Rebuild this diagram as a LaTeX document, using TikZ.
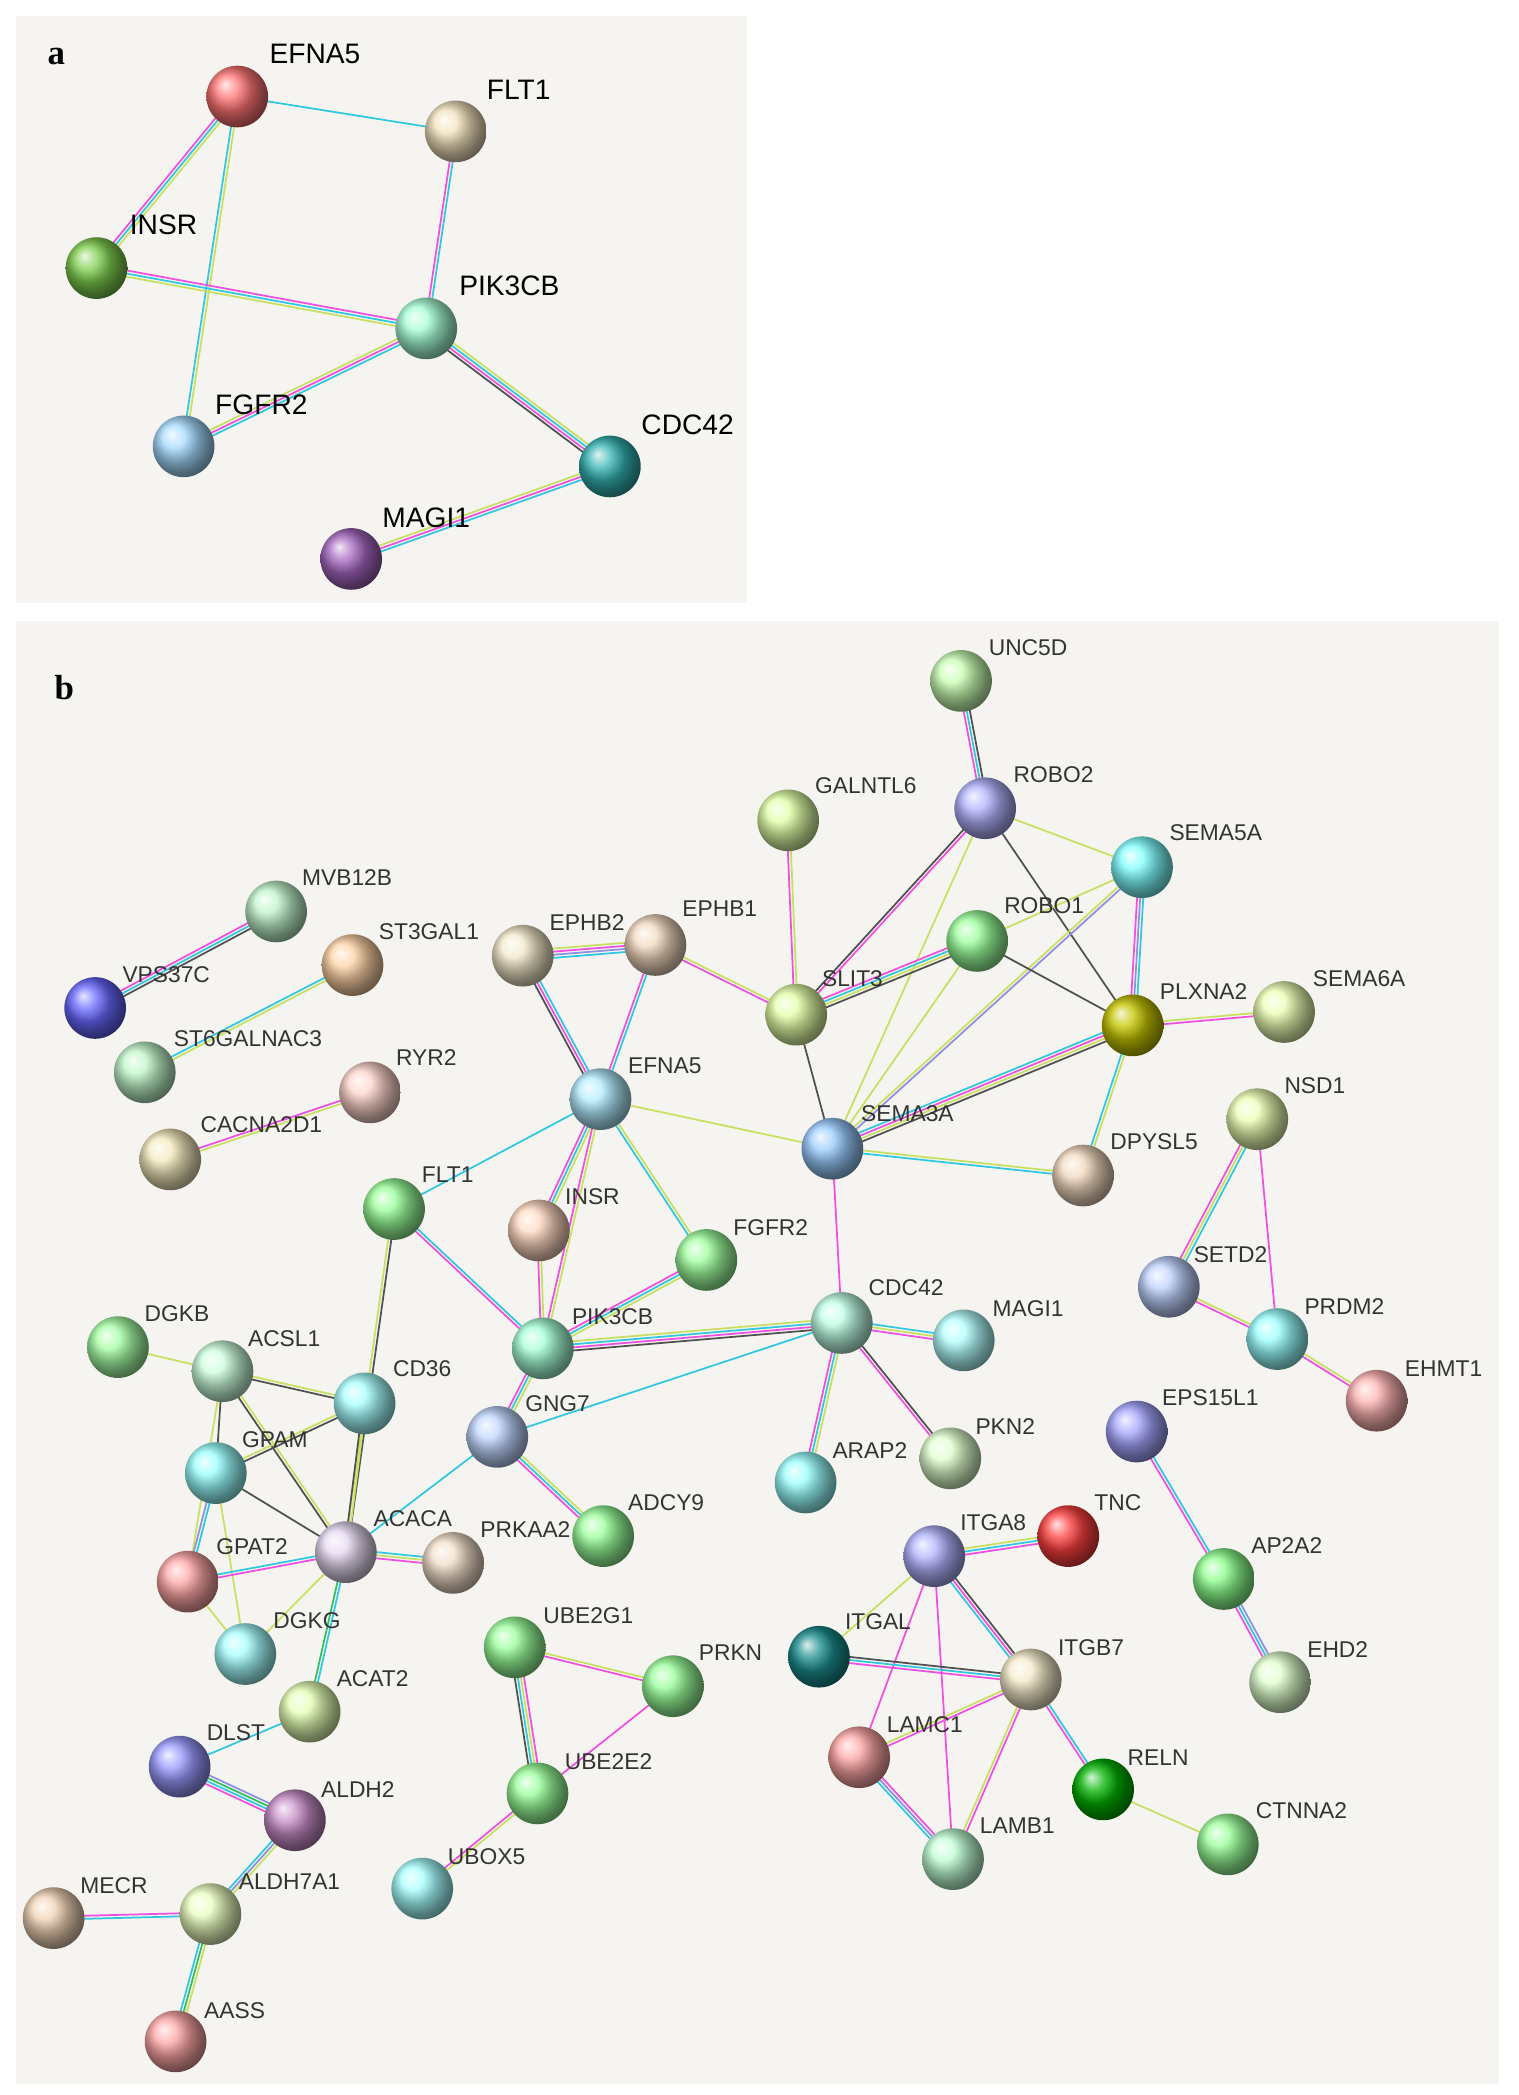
\documentclass[tikz,border=0pt]{standalone}
\usepackage{fontspec}
\setmainfont{Liberation Serif}
\newfontfamily\lab{Liberation Sans}
\usetikzlibrary{calc}
\definecolor{p}{HTML}{F04FE0}
\definecolor{c}{HTML}{30C8E0}
\definecolor{y}{HTML}{C8E060}
\definecolor{k}{HTML}{505050}
\definecolor{v}{HTML}{9090E0}
\definecolor{g}{HTML}{30C060}
\definecolor{bg}{HTML}{F6F4F0}
\tikzset{
 ball/.style={circle,minimum size=46pt,inner sep=0pt,shading=ball,ball color=#1},
 tx/.style={font=\lab\fontsize{17}{17}\selectfont,inner sep=1pt,text=black!80},
 txa/.style={font=\lab\fontsize{21}{21}\selectfont,inner sep=1pt}
}
\newcommand\eg[3]{%
 \foreach \cc [count=\ii] in {#3} {\xdef\nn{\ii}}%
 \foreach \cc [count=\ii] in {#3} {%
  \pgfmathsetmacro\oo{(\ii-(\nn+1)/2)*2.3}%
  \draw[line width=1.3pt,color=\cc] ($(#1)!\oo pt!90:(#2)$) -- ($(#2)!\oo pt!-90:(#1)$);}}
\newcommand\nd[6]{\coordinate (#1) at (#2,#3); \coordinate (L#1) at (#5,#6); \expandafter\xdef\csname T#1\endcsname{#4}}
\begin{document}
\begin{tikzpicture}[x=1pt,y=-1pt]
\useasboundingbox (0,0) rectangle (1133,1563);
\fill[white] (0,0) rectangle (1133,1563);
\fill[bg] (12,12) rectangle (557,450);
\fill[bg] (12,463) rectangle (1118,1555);
\node[font=\bfseries\fontsize{26}{26}\selectfont] at (42,42) {a};
\node[font=\bfseries\fontsize{26}{26}\selectfont] at (48,513) {b};
% panel a
\coordinate (aE) at (177,72); \coordinate (aF) at (340,98); \coordinate (aI) at (72,200);
\coordinate (aP) at (318,245); \coordinate (aG) at (137,333); \coordinate (aC) at (455,348);
\coordinate (aM) at (262,417);
\eg{aE}{aF}{c}\eg{aE}{aI}{p,c,y}\eg{aE}{aG}{c,y}
\eg{aF}{aP}{p,c}\eg{aI}{aP}{y,c,p}\eg{aP}{aG}{y,p,c}\eg{aP}{aC}{k,p,c,y}\eg{aC}{aM}{y,p,c}
\node[ball=red!55!white] at (aE){};\node[ball=orange!35!yellow!40!brown!30!white] at (aF){};
\node[ball=green!45!olive!70!white] at (aI){};\node[ball=green!45!cyan!35!white] at (aP){};
\node[ball=cyan!60!blue!35] at (aG){};\node[ball=teal!75!cyan!80!white] at (aC){};
\node[ball=blue!45!purple!60!white] at (aM){};
\node[txa] at (235,40){EFNA5};\node[txa] at (387,67){FLT1};\node[txa] at (122,168){INSR};
\node[txa] at (380,213){PIK3CB};\node[txa] at (195,302){FGFR2};\node[txa] at (513,317){CDC42};
\node[txa] at (318,386){MAGI1};
% panel b nodes
\nd{UNC5D}{717}{508}{UNC5D}{767}{483}
\nd{ROBO2}{735}{603}{ROBO2}{786}{578}
\nd{GALNTL6}{588}{612}{GALNTL6}{646}{586}
\nd{SEMA5A}{852}{647}{SEMA5A}{907}{621}
\nd{MVB12B}{206}{680}{MVB12B}{259}{655}
\nd{ST3GAL1}{263}{720}{ST3GAL1}{320}{695}
\nd{EPHB2}{390}{713}{EPHB2}{438}{688}
\nd{EPHB1}{489}{705}{EPHB1}{537}{678}
\nd{ROBO1}{729}{702}{ROBO1}{779}{676}
\nd{SLIT3}{594}{757}{SLIT3}{636}{730}
\nd{PLXNA2}{845}{765}{PLXNA2}{898}{740}
\nd{SEMA6A}{958}{755}{SEMA6A}{1014}{730}
\nd{VPS37C}{71}{752}{VPS37C}{124}{727}
\nd{ST6GALNAC3}{108}{800}{ST6GALNAC3}{185}{775}
\nd{EFNA5}{448}{820}{EFNA5}{496}{795}
\nd{RYR2}{276}{815}{RYR2}{318}{789}
\nd{SEMA3A}{621}{857}{SEMA3A}{677}{831}
\nd{NSD1}{938}{835}{NSD1}{981}{810}
\nd{CACNA2D1}{127}{865}{CACNA2D1}{195}{839}
\nd{DPYSL5}{808}{877}{DPYSL5}{861}{852}
\nd{FLT1}{294}{902}{FLT1}{334}{876}
\nd{INSR}{402}{918}{INSR}{442}{893}
\nd{FGFR2}{527}{940}{FGFR2}{575}{916}
\nd{SETD2}{872}{960}{SETD2}{918}{936}
\nd{CDC42}{628}{987}{CDC42}{676}{961}
\nd{MAGI1}{719}{1000}{MAGI1}{767}{976}
\nd{PRDM2}{953}{999}{PRDM2}{1003}{975}
\nd{DGKB}{88}{1005}{DGKB}{132}{980}
\nd{ACSL1}{166}{1023}{ACSL1}{212}{999}
\nd{PIK3CB}{405}{1006}{PIK3CB}{457}{982}
\nd{CD36}{272}{1047}{CD36}{315}{1021}
\nd{EHMT1}{1027}{1045}{EHMT1}{1077}{1021}
\nd{EPS15L1}{848}{1068}{EPS15L1}{903}{1043}
\nd{GNG7}{371}{1072}{GNG7}{416}{1047}
\nd{GPAM}{161}{1099}{GPAM}{205}{1074}
\nd{PKN2}{709}{1088}{PKN2}{750}{1064}
\nd{ARAP2}{601}{1106}{ARAP2}{649}{1082}
\nd{ADCY9}{450}{1146}{ADCY9}{497}{1121}
\nd{ACACA}{258}{1158}{ACACA}{308}{1133}
\nd{TNC}{797}{1146}{TNC}{834}{1121}
\nd{ITGA8}{697}{1161}{ITGA8}{741}{1136}
\nd{PRKAA2}{338}{1166}{PRKAA2}{392}{1141}
\nd{GPAT2}{140}{1180}{GPAT2}{188}{1154}
\nd{AP2A2}{913}{1178}{AP2A2}{960}{1153}
\nd{DGKG}{183}{1234}{DGKG}{229}{1209}
\nd{UBE2G1}{384}{1229}{UBE2G1}{439}{1205}
\nd{ITGAL}{611}{1236}{ITGAL}{655}{1210}
\nd{ITGB7}{769}{1253}{ITGB7}{814}{1229}
\nd{PRKN}{502}{1258}{PRKN}{545}{1233}
\nd{EHD2}{955}{1255}{EHD2}{998}{1231}
\nd{ACAT2}{231}{1277}{ACAT2}{278}{1252}
\nd{LAMC1}{641}{1311}{LAMC1}{690}{1287}
\nd{DLST}{134}{1318}{DLST}{176}{1293}
\nd{UBE2E2}{401}{1338}{UBE2E2}{454}{1314}
\nd{RELN}{823}{1335}{RELN}{864}{1311}
\nd{ALDH2}{220}{1358}{ALDH2}{267}{1335}
\nd{CTNNA2}{916}{1376}{CTNNA2}{971}{1351}
\nd{LAMB1}{711}{1387}{LAMB1}{759}{1362}
\nd{UBOX5}{315}{1409}{UBOX5}{363}{1385}
\nd{MECR}{40}{1431}{MECR}{85}{1407}
\nd{ALDH7A1}{157}{1428}{ALDH7A1}{216}{1404}
\nd{AASS}{131}{1523}{AASS}{175}{1500}
% edges b
\eg{UNC5D}{ROBO2}{p,c,k}\eg{ROBO2}{SLIT3}{k,p}\eg{ROBO2}{SEMA3A}{y}\eg{ROBO2}{PLXNA2}{k}
\eg{ROBO2}{SEMA5A}{y}\eg{SEMA5A}{PLXNA2}{p,v,c}\eg{SEMA5A}{SEMA3A}{y,v}\eg{SEMA5A}{ROBO1}{y}
\eg{GALNTL6}{SLIT3}{p,y}\eg{ROBO1}{SLIT3}{p,c,y,k}\eg{ROBO1}{PLXNA2}{k}
\eg{ROBO1}{SEMA3A}{y}\eg{EPHB2}{EPHB1}{c,v,p,y}\eg{EPHB2}{EFNA5}{k,p,c}\eg{EPHB1}{EFNA5}{p,c}
\eg{EPHB1}{SLIT3}{p,y}\eg{SLIT3}{SEMA3A}{k}\eg{PLXNA2}{SEMA6A}{p,y}\eg{PLXNA2}{SEMA3A}{c,p,y,k}
\eg{PLXNA2}{DPYSL5}{c,y}\eg{SEMA3A}{DPYSL5}{c,y}\eg{SEMA3A}{EFNA5}{y}\eg{SEMA3A}{CDC42}{p}
\eg{MVB12B}{VPS37C}{p,c,k}\eg{ST3GAL1}{ST6GALNAC3}{c,y}\eg{RYR2}{CACNA2D1}{p,y}
\eg{EFNA5}{FLT1}{c}\eg{EFNA5}{INSR}{p,c,y}\eg{EFNA5}{FGFR2}{c,y}\eg{EFNA5}{PIK3CB}{p,y}
\eg{NSD1}{SETD2}{p,y,c}\eg{NSD1}{PRDM2}{p}\eg{SETD2}{PRDM2}{p,y}\eg{PRDM2}{EHMT1}{p,y}
\eg{FLT1}{PIK3CB}{p,c}\eg{FLT1}{ACACA}{y,k}\eg{INSR}{PIK3CB}{p,y}\eg{FGFR2}{PIK3CB}{p,c,y}
\eg{PIK3CB}{CDC42}{k,p,c,y}\eg{PIK3CB}{GNG7}{p,c,y}\eg{CDC42}{MAGI1}{p,y,c}
\eg{CDC42}{ARAP2}{p,c,y}\eg{CDC42}{PKN2}{p,k}\eg{CDC42}{GNG7}{c}
\eg{GNG7}{ADCY9}{p,c,y}\eg{GNG7}{ACACA}{c}\eg{ACACA}{PRKAA2}{p,y,c}
\eg{DGKB}{ACSL1}{y}\eg{ACSL1}{CD36}{k,y}\eg{ACSL1}{GPAM}{k}\eg{ACSL1}{ACACA}{k,y}
\eg{ACSL1}{GPAT2}{y}\eg{GPAM}{CD36}{k,y}\eg{CD36}{ACACA}{k,y}\eg{GPAM}{ACACA}{k}
\eg{GPAM}{GPAT2}{v,c}\eg{GPAM}{DGKG}{y}\eg{GPAT2}{ACACA}{p,c}\eg{DGKG}{ACACA}{y}
\eg{GPAT2}{DGKG}{y}\eg{ACACA}{ACAT2}{g,c}\eg{DLST}{ACAT2}{c}\eg{DLST}{ALDH2}{p,c,g,v}
\eg{ALDH2}{ALDH7A1}{c,v,y}\eg{ALDH7A1}{MECR}{p,c}\eg{ALDH7A1}{AASS}{c,g,y}
\eg{UBE2G1}{UBE2E2}{k,c,y,p}\eg{UBE2G1}{PRKN}{p,y}\eg{PRKN}{UBE2E2}{p}\eg{UBE2E2}{UBOX5}{p,y}
\eg{ITGA8}{TNC}{p,c,y}\eg{ITGA8}{ITGAL}{y}\eg{ITGA8}{ITGB7}{c,p,k}\eg{ITGA8}{LAMC1}{p}
\eg{ITGA8}{LAMB1}{p}\eg{ITGAL}{ITGB7}{p,c,k}\eg{LAMC1}{ITGB7}{p,y}\eg{LAMC1}{LAMB1}{c,v,p}
\eg{ITGB7}{LAMB1}{y,p}\eg{ITGB7}{RELN}{p,c}\eg{RELN}{CTNNA2}{y}
\eg{EPS15L1}{AP2A2}{p,c}\eg{AP2A2}{EHD2}{p,c,v}
% balls b
\foreach \n/\col in {UNC5D/yellow!30!green!30, ROBO2/blue!30, GALNTL6/green!35!yellow!35,
 SEMA5A/cyan!50, MVB12B/teal!35!green!25, ST3GAL1/orange!35, EPHB2/yellow!30!brown!25,
 EPHB1/orange!35!brown!30, ROBO1/green!40, SLIT3/green!30!yellow!35, PLXNA2/olive!60!yellow!80,
 SEMA6A/green!25!yellow!30, VPS37C/blue!60, ST6GALNAC3/teal!30!green!25, EFNA5/blue!25!cyan!30,
 RYR2/orange!35!red!20, SEMA3A/blue!50!cyan!40, NSD1/green!25!yellow!30, CACNA2D1/yellow!45!brown!30,
 DPYSL5/orange!35!brown!30, FLT1/green!40, INSR/red!25!orange!25, FGFR2/green!38,
 SETD2/cyan!30!blue!25, CDC42/green!38!cyan!25, MAGI1/cyan!30, PRDM2/cyan!40, DGKB/green!35,
 ACSL1/cyan!35!green!20, PIK3CB/green!45!cyan!35, CD36/cyan!35, EHMT1/red!30, EPS15L1/blue!35,
 GNG7/cyan!35!blue!25, GPAM/cyan!40, PKN2/yellow!35!green!20, ARAP2/cyan!40, ADCY9/green!40,
 ACACA/blue!30!violet!15, TNC/red!75, ITGA8/blue!30, PRKAA2/orange!30!brown!25,
 GPAT2/red!35, AP2A2/green!45, DGKG/cyan!35, UBE2G1/green!40, ITGAL/teal!90, ITGB7/yellow!35!brown!25,
 PRKN/green!40, EHD2/yellow!35!green!20, ACAT2/green!35!yellow!30, LAMC1/red!35, DLST/blue!40,
 UBE2E2/green!40, RELN/green!70!black, ALDH2/violet!45, CTNNA2/green!40, LAMB1/cyan!35!green!25,
 UBOX5/cyan!35, MECR/orange!35!brown!35, ALDH7A1/green!30!yellow!25, AASS/red!35}
 {\node[ball=\col] at (\n){};}
\foreach \n in {UNC5D,ROBO2,GALNTL6,SEMA5A,MVB12B,ST3GAL1,EPHB2,EPHB1,ROBO1,SLIT3,PLXNA2,SEMA6A,
 VPS37C,ST6GALNAC3,EFNA5,RYR2,SEMA3A,NSD1,CACNA2D1,DPYSL5,FLT1,INSR,FGFR2,SETD2,CDC42,MAGI1,
 PRDM2,DGKB,ACSL1,PIK3CB,CD36,EHMT1,EPS15L1,GNG7,GPAM,PKN2,ARAP2,ADCY9,ACACA,TNC,ITGA8,PRKAA2,
 GPAT2,AP2A2,DGKG,UBE2G1,ITGAL,ITGB7,PRKN,EHD2,ACAT2,LAMC1,DLST,UBE2E2,RELN,ALDH2,CTNNA2,LAMB1,
 UBOX5,MECR,ALDH7A1,AASS}
 {\node[tx] at (L\n) {\csname T\n\endcsname};}
\end{tikzpicture}
\end{document}
